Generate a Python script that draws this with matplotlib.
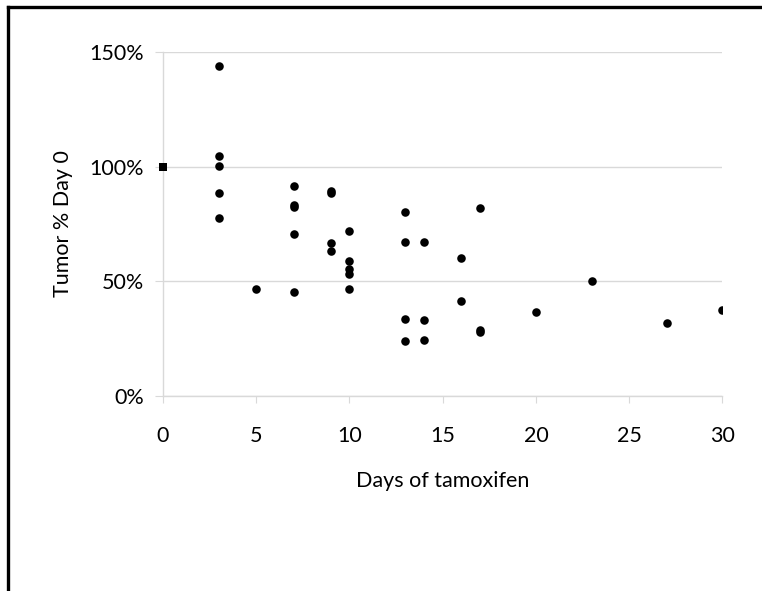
import numpy as np
import matplotlib
matplotlib.use('Agg')
import matplotlib.pyplot as plt
from matplotlib.ticker import PercentFormatter
from matplotlib.lines import Line2D

plt.rcParams['font.family'] = ['Lato', 'DejaVu Sans']

# day 0 reference point (drawn as square)
base_days = [0]
base_pct = [100]

# tumour size relative to day 0, per day of tamoxifen
days = [3, 3, 3, 3, 3,
        5,
        7, 7, 7, 7, 7,
        9, 9, 9, 9,
        10, 10, 10, 10, 10,
        13, 13, 13, 13,
        14, 14, 14,
        16, 16,
        17, 17, 17,
        20, 23, 27, 30]
pct = [144.0, 104.7, 100.3, 88.4, 77.6,
       46.8,
       91.8, 83.3, 82.4, 70.5, 45.1,
       89.4, 88.7, 66.9, 63.1,
       72.1, 58.9, 55.5, 53.2, 46.5,
       80.4, 67.3, 33.4, 24.1,
       67.3, 32.9, 24.4,
       60.3, 41.3,
       82.1, 28.6, 27.7,
       36.4, 49.9, 31.6, 37.4]

x_ticks = [0, 5, 10, 15, 20, 25, 30]
y_ticks = [0, 50, 100, 150]

grey = '#d9d9d9'

fig = plt.figure(figsize=(7.62, 5.91), dpi=100)
ax = fig.add_axes([0.2139, 0.3305, 0.7342, 0.581])

ax.scatter(days, pct, s=38, color='black', zorder=3, linewidths=0)
ax.scatter(base_days, base_pct, s=40, marker='s', color='black', zorder=3,
           linewidths=0, clip_on=False)

ax.set_xlim(0, 30)
ax.set_ylim(0, 150)
ax.set_xticks(x_ticks)
ax.set_yticks(y_ticks)
ax.yaxis.set_major_formatter(PercentFormatter(decimals=0))

ax.grid(axis='y', color=grey, linewidth=1)
ax.set_axisbelow(True)
for side in ['top', 'right']:
    ax.spines[side].set_visible(False)
for side in ['left', 'bottom']:
    ax.spines[side].set_color(grey)
    ax.spines[side].set_linewidth(1)

ax.tick_params(axis='x', direction='out', length=5, color=grey, pad=17,
               labelsize=15.5, labelcolor='black')
ax.tick_params(axis='y', direction='out', length=5.5, color=grey, pad=8,
               labelsize=15.5, labelcolor='black')

ax.set_xlabel('Days of tamoxifen', fontsize=15.5, labelpad=18)
ax.set_ylabel('Tumor % Day 0', fontsize=15.5, labelpad=12)

# chart frame (left and top edges visible)
fig.add_artist(Line2D([7.5 / 762, 7.5 / 762], [0, 1 - 6.5 / 591],
                      transform=fig.transFigure, color='black', linewidth=2.4))
fig.add_artist(Line2D([7.5 / 762, 1], [1 - 6.5 / 591, 1 - 6.5 / 591],
                      transform=fig.transFigure, color='black', linewidth=2.4))

fig.savefig('out.png', dpi=100)
